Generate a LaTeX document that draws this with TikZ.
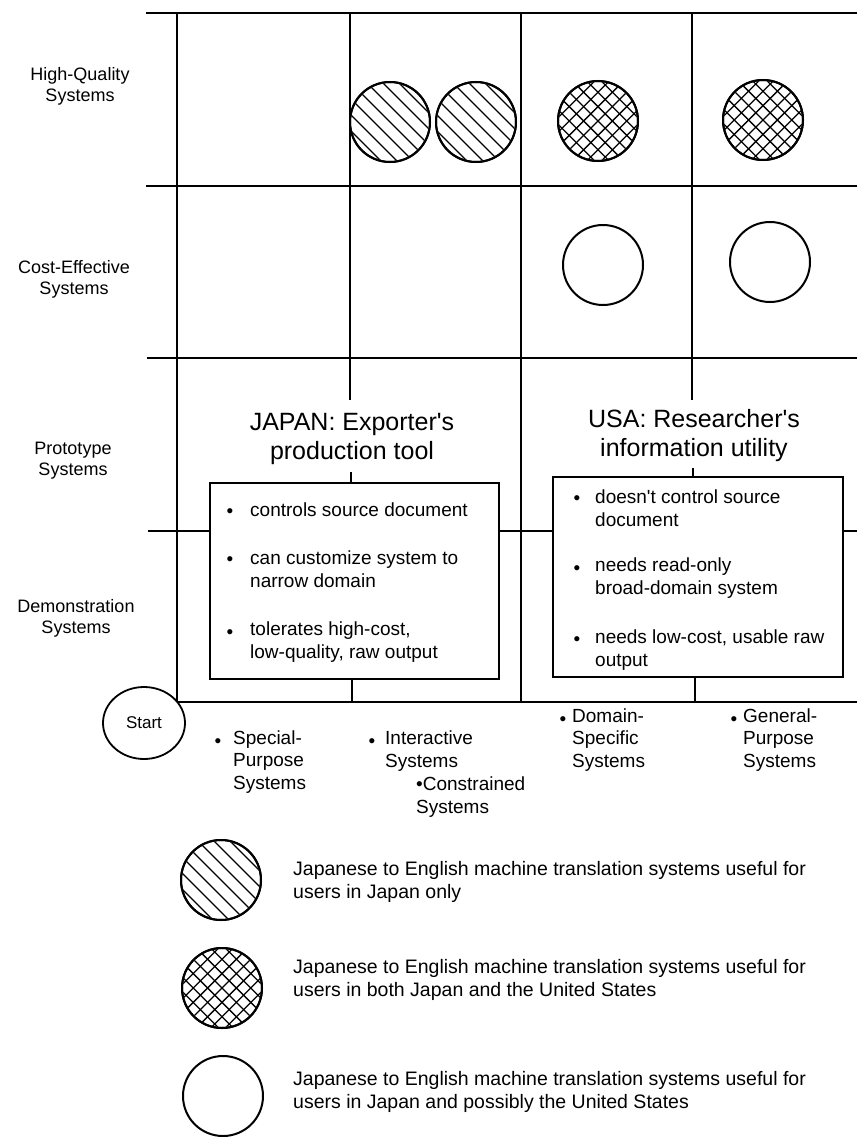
\documentclass[tikz,border=0pt]{standalone}
\usepackage{fontspec}
\setmainfont{Liberation Sans}
\usetikzlibrary{shapes.geometric}
\newcommand\myfs[2]{\fontsize{#1}{#2}\selectfont}
\makeatletter
\newcommand\straightq{{\font\straightqf="Liberation Sans" at \f@size pt\straightqf'}}
\makeatother
\begin{document}
\begin{tikzpicture}[x=1pt,y=-1pt,
  gridline/.style={line width=1.8pt},
  infobox/.style={draw, line width=2.9pt, inner sep=0pt},
  circ/.style={draw, circle, line width=2pt, minimum size=80pt, inner sep=0pt},
  hatchline/.style={line width=1.3pt},
  rowlab/.style={align=center, inner sep=0pt, font=\myfs{18}{21}},
  ttl/.style={align=center, inner sep=0pt, font=\myfs{25}{29}},
  itemtext/.style={anchor=west, align=left, inner sep=0pt, font=\myfs{19}{22.5}},
  bulletdot/.style={inner sep=0pt, yshift=-3.5pt, font=\myfs{19}{22}},
  legtext/.style={anchor=west, align=left, inner sep=0pt, font=\myfs{19.5}{23}},
]
\fill[white] (0,0) rectangle (857,1137);
\useasboundingbox (0,0) rectangle (857,1137);

% ---- info boxes
\node[infobox, minimum width=289pt, minimum height=196pt] (japan) at (354.5,581) {};
\node[infobox, minimum width=290pt, minimum height=200pt] (usa) at (698,577) {};

% ---- titles
\node[ttl] (jt) at (352,439) {JAPAN: Exporter\straightq s\\production tool};
\node[ttl] (ut) at (694,436) {USA: Researcher\straightq s\\information utility};

% ---- grid
\draw[gridline] (146,13) -- (857,13);
\draw[gridline] (146,186) -- (857,186);
\draw[gridline] (147,358) -- (857,358);
\draw[gridline] (177,702) -- (857,702);
\draw[gridline] (148,531) -- (japan.west |- 0,531);
\draw[gridline] (japan.east |- 0,531) -- (usa.west |- 0,531);
\draw[gridline] (usa.east |- 0,531) -- (857,531);

\draw[gridline] (177,13) -- (177,702);
\draw[gridline] (521,13) -- (521,702);
\draw[gridline] (350,13) -- (350,400);
\draw[gridline] (351,472) -- (351,483);
\draw[gridline] (352,679) -- (352,702);
\draw[gridline] (692,13) -- (692,400);
\draw[gridline] (693,468) -- (693,477);
\draw[gridline] (695,677) -- (695,702);

% ---- row labels
\node[rowlab] (r1) at (80,86) {High-Quality\\Systems};
\node[rowlab] (r2) at (74,279) {Cost-Effective\\Systems};
\node[rowlab] (r3) at (73,461) {Prototype\\Systems};
\node[rowlab] (r4) at (76,618) {Demonstration\\Systems};

% ---- grid circles
\newcommand\hatchone[1]{%
  \begin{scope}
    \clip (#1.center) circle (39pt);
    \foreach \k in {-6,...,6}
      \draw[hatchline] ([shift={(\k*8-50,-\k*8-50)}]#1.center) -- ++(100,100);
  \end{scope}}
\newcommand\hatchtwo[1]{%
  \begin{scope}
    \clip (#1.center) circle (39pt);
    \foreach \k in {-7,...,7} {
      \draw[hatchline] ([shift={(\k*7.2-50,-\k*7.2-50)}]#1.center) -- ++(100,100);
      \draw[hatchline] ([shift={(\k*7.2-50,\k*7.2+50)}]#1.center) -- ++(100,-100);
    }
  \end{scope}}

\node[circ] (h1) at (390,122) {};
\node[circ] (h2) at (476,122) {};
\node[circ] (x1) at (598,121) {};
\node[circ] (x2) at (763,120) {};
\hatchone{h1}\hatchone{h2}\hatchtwo{x1}\hatchtwo{x2}
\node[circ] at (h1) {};
\node[circ] at (h2) {};
\node[circ] at (x1) {};
\node[circ] at (x2) {};
\node[circ] (o1) at (603,265) {};
\node[circ] (o2) at (770,262) {};

% ---- JAPAN box items
\node[bulletdot] (jb1) at (230,510) {•};
\node[itemtext] (ji1) at (250,510) {controls source document};
\node[bulletdot] (jb2) at (230,558) {•};
\node[itemtext] (ji2) at (250,569) {can customize system to\\narrow domain};
\node[bulletdot] (jb3) at (230,631) {•};
\node[itemtext] (ji3) at (250,642) {tolerates high-cost,\\low-quality, raw output};

% ---- USA box items
\node[bulletdot] (ub1) at (577,497) {•};
\node[itemtext] (ui1) at (595,508) {doesn\straightq t control source\\document};
\node[bulletdot] (ub2) at (577,567) {•};
\node[itemtext] (ui2) at (595,578) {needs read-only\\broad-domain system};
\node[bulletdot] (ub3) at (577,638) {•};
\node[itemtext] (ui3) at (595,650) {needs low-cost, usable raw\\output};

% ---- start
\node[draw, ellipse, line width=1.8pt, minimum width=82pt, minimum height=72pt,
      inner sep=0pt, font=\myfs{17}{20}] (start) at (144,723) {Start};

% ---- column labels
\node[bulletdot] (cb1) at (218,740) {•};
\node[itemtext] (c1) at (233,762) {Special-\\Purpose\\Systems};
\node[bulletdot] (cb2) at (372,740) {•};
\node[itemtext] (c2) at (385,751) {Interactive\\Systems};
\node[itemtext] (c3) at (416,797) {•Constrained\\Systems};
\node[bulletdot] (cb4) at (563,718) {•};
\node[itemtext] (c4) at (572,740) {Domain-\\Specific\\Systems};
\node[bulletdot] (cb5) at (734,718) {•};
\node[itemtext] (c5) at (743,740) {General-\\Purpose\\Systems};

% ---- legend
\node[circ] (lh) at (221,880) {};
\node[circ] (lx) at (222,988) {};
\hatchone{lh}\hatchtwo{lx}
\node[circ] at (lh) {};
\node[circ] at (lx) {};
\node[circ] (lo) at (223,1096) {};
\node[legtext] (lt1) at (293,882) {Japanese to English machine translation systems useful for\\users in Japan only};
\node[legtext] (lt2) at (293,980) {Japanese to English machine translation systems useful for\\users in both Japan and the United States};
\node[legtext] (lt3) at (293,1092) {Japanese to English machine translation systems useful for\\users in Japan and possibly the United States};
\end{tikzpicture}
\end{document}
